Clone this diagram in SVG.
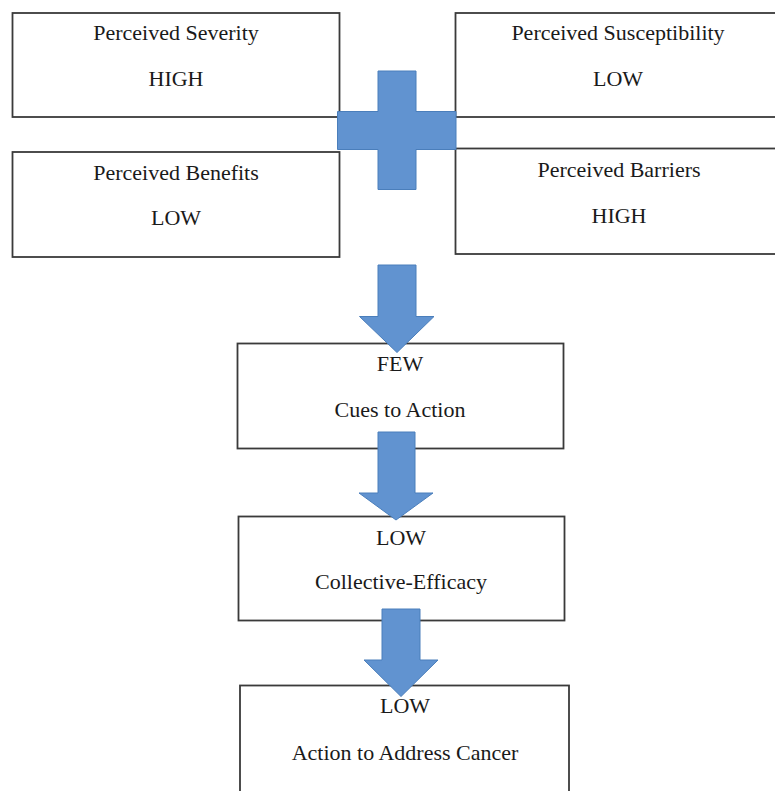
<svg xmlns="http://www.w3.org/2000/svg" width="775" height="791" viewBox="0 0 775 791">
<style>
.box{fill:#ffffff;stroke:#3a3a3a;stroke-width:1.8}
.t{font-family:"Liberation Serif","Times New Roman",serif;font-size:22px;fill:#1a1a1a;text-anchor:middle}
.blue{fill:#6193d0;stroke:#4a7ebb;stroke-width:1}
</style>
<rect width="775" height="791" fill="#ffffff"/>
<g id="severity"><rect class="box" x="12.5" y="13" width="327" height="104"/><text class="t" x="176" y="40">Perceived Severity</text><text class="t" x="176" y="86">HIGH</text></g>
<g id="susceptibility"><rect class="box" x="455.5" y="13" width="330" height="104"/><text class="t" x="618" y="40">Perceived Susceptibility</text><text class="t" x="618" y="86">LOW</text></g>
<g id="benefits"><rect class="box" x="12.5" y="152" width="327" height="105"/><text class="t" x="176" y="180">Perceived Benefits</text><text class="t" x="176" y="225">LOW</text></g>
<g id="barriers"><rect class="box" x="455.5" y="148.5" width="330" height="105.5"/><text class="t" x="619" y="177">Perceived Barriers</text><text class="t" x="619" y="223">HIGH</text></g>
<g id="cues"><rect class="box" x="237.5" y="343.5" width="326" height="105"/><text class="t" x="400" y="371">FEW</text><text class="t" x="400" y="417">Cues to Action</text></g>
<g id="efficacy"><rect class="box" x="238.5" y="516.5" width="326" height="104"/><text class="t" x="401" y="545">LOW</text><text class="t" x="401" y="589">Collective-Efficacy</text></g>
<g id="action"><rect class="box" x="240" y="685.5" width="329" height="115"/><text class="t" x="405" y="713">LOW</text><text class="t" x="405" y="760">Action to Address Cancer</text></g>
<g id="connectors">
<path class="blue" d="M378,71 H416 V111.5 H456 V149.5 H416 V189.5 H378 V149.5 H337.5 V111.5 H378 Z"/>
<path class="blue" d="M378,265 H416 V316.5 H434 L397,352.5 L359.5,316.5 H378 Z"/>
<path class="blue" d="M378,432 H415 V493 H433 L396,520 L359,493 H378 Z"/>
<path class="blue" d="M382,609 H420 V660 H438 L401,696.5 L364,660 H382 Z"/>
</g>
</svg>
